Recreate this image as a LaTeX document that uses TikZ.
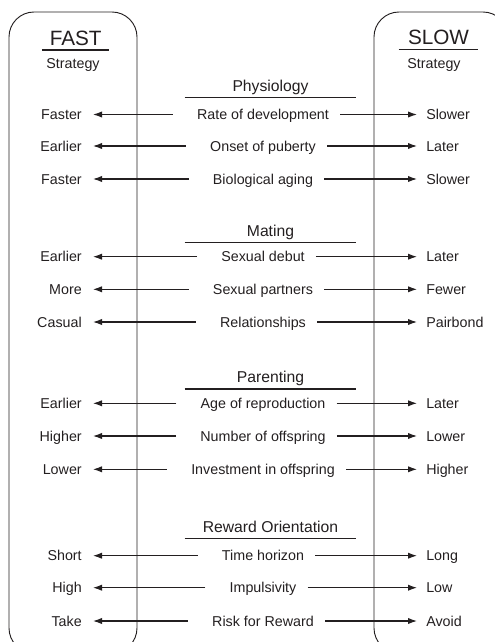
\documentclass[tikz,border=0pt]{standalone}
\usepackage{fontspec}
\setmainfont{Liberation Sans}
\usepackage{tikz}
\usetikzlibrary{arrows.meta}
\usetikzlibrary{positioning}
\usepackage{color}
\definecolor{ink}{RGB}{35, 31, 32}

\tikzset{
  pane/.style={draw=ink, line width=0.65pt, rounded corners=17.5pt},
  rule/.style={draw=ink, line width=0.75pt},
  trait/.style={font=\fontsize{10}{12}\selectfont, text=ink, text height=7.2pt, text depth=0pt, inner sep=0pt},
  fastlbl/.style={trait, anchor=east},
  slowlbl/.style={trait, anchor=west},
  head/.style={font=\fontsize{11}{13}\selectfont, text=ink, anchor=south, minimum width=119.7pt, text depth=0pt, inner xsep=0pt, inner ysep=4.2pt},
  title/.style={font=\fontsize{14.5}{17}\selectfont, text=ink, anchor=south, text depth=0pt, inner xsep=0pt, inner ysep=3pt},
  toleft/.style={-{Latex[length=6.3pt,width=4.4pt]}, draw=ink, line width=0.75pt, shorten <=16.8pt, shorten >=7.7pt},
  toright/.style={-{Latex[length=6.3pt,width=4.4pt]}, draw=ink, line width=0.75pt, shorten <=7.7pt, shorten >=6.3pt}
}

\begin{document}
\begin{tikzpicture}[x=0.7pt, y=-0.7pt]
  \useasboundingbox (0,0) rectangle (495,642);
  \clip (0,0) rectangle (495,642);
  % the two strategy panes
  \draw[pane] (9,12) rectangle (137,653);
  \draw[pane] (374,12) rectangle (508,653);

  \node[title, minimum width=46.9pt] (fast) at (75.7,50) {FAST};
  \draw[rule, line width=1.1pt] (fast.south west) -- (fast.south east);
  \node[trait] (fastsub) at (73,63.2) {Strategy};
  \node[title, minimum width=55.3pt] (slow) at (438.5,49.3) {SLOW};
  \draw[rule, line width=1.1pt] (slow.south west) -- (slow.south east);
  \node[trait] (slowsub) at (434,63.2) {Strategy};

  % section headings
  \foreach \y/\name [count=\k] in {97.7/Physiology, 242.3/Mating, 389/Parenting, 538.3/Reward Orientation}
  {
    \node[head] (head\k) at (270.5,\y) {\name};
    \draw[rule] (head\k.south west) -- (head\k.south east);
  }

  % traits
  \foreach \y/\fast/\trait/\slow [count=\i] in {
      114.5/Faster/Rate of development/Slower,
      146/Earlier/Onset of puberty/Later,
      179/Faster/Biological aging/Slower,
      256.7/Earlier/Sexual debut/Later,
      289.3/More/Sexual partners/Fewer,
      322/Casual/Relationships/Pairbond,
      403.3/Earlier/Age of reproduction/Later,
      436/Higher/Number of offspring/Lower,
      469.3/Lower/Investment in offspring/Higher,
      555.7/Short/Time horizon/Long,
      587.7/High/Impulsivity/Low,
      621/Take/Risk for Reward/Avoid}
  {
    \node[trait] (trait\i) at (263,\y) {\trait};
    \node[fastlbl] (fast\i) at (82,\y) {\fast};
    \node[slowlbl] (slow\i) at (426,\y) {\slow};
    \draw[toleft] (trait\i) -- (fast\i);
    \draw[toright] (trait\i) -- (slow\i);
  }
\end{tikzpicture}
\end{document}
